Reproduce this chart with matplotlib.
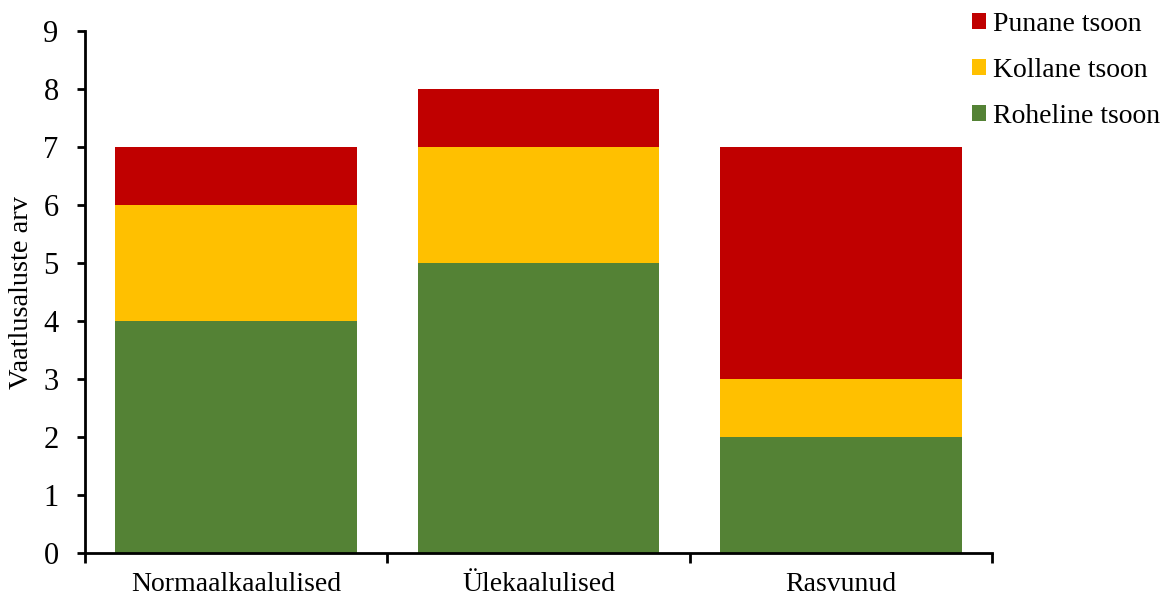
import matplotlib
matplotlib.use("Agg")
import matplotlib.pyplot as plt
import numpy as np

plt.rcParams.update({"font.family": "Liberation Serif", "font.size": 20})

categories = ["Normaalkaalulised", "Ülekaalulised", "Rasvunud"]
green = [4, 5, 2]
yellow = [2, 2, 1]
red = [1, 1, 4]

GREEN = "#548235"; YELLOW = "#FFC000"; RED = "#C00000"

fig = plt.figure(figsize=(11.63, 5.96), dpi=100)
ax = fig.add_axes([0.0731, 0.0721, 0.7799, 0.8759])

x = np.arange(len(categories))
b_g = ax.bar(x, green, 0.8, color=GREEN, label="Roheline tsoon")
b_y = ax.bar(x, yellow, 0.8, bottom=green, color=YELLOW, label="Kollane tsoon")
b_r = ax.bar(x, red, 0.8, bottom=np.add(green, yellow), color=RED, label="Punane tsoon")

ax.set_xlim(-0.5, 2.5)
ax.set_ylim(0, 9)
ax.set_yticks(range(10))
ax.set_xticks(x)
ax.set_xticklabels(categories)
ax.tick_params(axis="x", which="major", length=0, pad=14)
ax.set_xticks([-0.5, 0.5, 1.5, 2.5], minor=True)
ax.tick_params(axis="x", which="minor", length=7, width=2, direction="out")
ax.tick_params(axis="y", length=6, width=2, direction="out", pad=13, labelsize=22)
for s in ["top", "right"]:
    ax.spines[s].set_visible(False)
for s in ["left", "bottom"]:
    ax.spines[s].set_linewidth(2)
ax.set_ylabel("Vaatlusaluste arv", fontsize=20.5, labelpad=7)

fig.legend([b_r, b_y, b_g], ["Punane tsoon", "Kollane tsoon", "Roheline tsoon"],
           loc="upper left", bbox_to_anchor=(972 / 1163, 0.980), frameon=False,
           borderpad=0, borderaxespad=0,
           handlelength=0.5, handleheight=0.5, handletextpad=0.25,
           labelspacing=0.75, fontsize=20)

fig.savefig("out.png", dpi=100)
